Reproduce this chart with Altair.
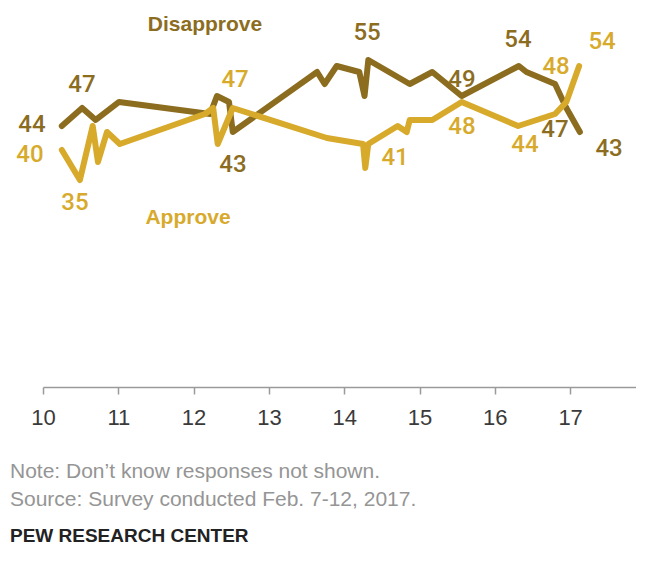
import altair as alt
import pandas as pd

# Disapprove series (year fraction, percent)
dis_t = [10.25, 10.52, 10.70, 11.01, 12.22, 12.31, 12.47, 12.52, 13.64, 13.74, 13.90,
         14.20, 14.27, 14.32, 14.87, 15.17, 15.56, 16.32, 16.42, 16.80, 16.95, 17.13]
dis_v = [44, 47, 45, 48, 46, 49, 48, 43, 53, 51, 54,
         53, 49, 55, 51, 53, 49, 54, 53, 51, 47, 43]

# Approve series
app_t = [10.25, 10.49, 10.66, 10.73, 10.85, 11.02, 12.15, 12.26, 12.32, 12.52, 13.77,
         14.25, 14.28, 14.32, 14.71, 14.83, 14.87, 15.17, 15.56, 16.31, 16.80, 16.95, 17.12]
app_v = [40, 35, 44, 38, 43, 41, 46, 47, 41, 47, 42,
         41, 37, 41, 44, 43, 45, 45, 48, 44, 46, 48, 54]

# Value labels (text, anchor year, anchor value, series)
lab_text = ["44", "47", "43", "55", "49", "54", "47", "43",
            "40", "35", "47", "41", "48", "44", "48", "54"]
lab_t = [9.854, 10.518, 12.523, 14.303, 15.564, 16.308, 16.799, 17.517,
         9.827, 10.425, 12.55, 14.675, 15.564, 16.401, 16.813, 17.424]
lab_v = [44.17, 50.83, 37.5, 59.5, 51.67, 58.33, 43.33, 40.17,
         39.17, 31.17, 51.67, 38.67, 43.83, 40.83, 53.83, 58.0]
lab_s = ["Disapprove"] * 8 + ["Approve"] * 8

# Series names placed as labels
name_text = ["Disapprove", "Approve"]
name_t = [12.151, 11.926]
name_v = [60.83, 28.67]

x_ticks = [10, 11, 12, 13, 14, 15, 16, 17]

notes = ["Note: Don\u2019t know responses not shown.",
         "Source: Survey conducted Feb. 7-12, 2017."]
credit = "PEW RESEARCH CENTER"

DARK = "#8C6D1F"
LIGHT = "#D8AA2C"

rows = []
for i, (t, v) in enumerate(zip(dis_t, dis_v)):
    rows.append({"t": t, "v": v, "series": "Disapprove", "i": i})
for i, (t, v) in enumerate(zip(app_t, app_v)):
    rows.append({"t": t, "v": v, "series": "Approve", "i": i})
lines_df = pd.DataFrame(rows)

labels_df = pd.DataFrame({"text": lab_text, "t": lab_t, "v": lab_v, "series": lab_s})
names_df = pd.DataFrame({"text": name_text, "t": name_t, "v": name_v, "series": name_text})

xscale = alt.Scale(domain=[10, 17.875], nice=False, zero=False)
yscale = alt.Scale(domain=[0.5, 63.33], nice=False, zero=False)
cscale = alt.Scale(domain=["Disapprove", "Approve"], range=[DARK, LIGHT])

xaxis = alt.Axis(values=x_ticks, format="d", title=None, grid=False,
                 domainColor="#9a9a9a", domainWidth=1.5, tickColor="#9a9a9a",
                 tickWidth=1.5, tickSize=7, labelFontSize=22, labelColor="#3a3a3a",
                 labelFont="Liberation Sans", labelPadding=13, labelFlush=False)

lines = alt.Chart(lines_df).mark_line(strokeWidth=6, strokeJoin="round", strokeCap="round").encode(
    x=alt.X("t:Q", scale=xscale, axis=xaxis),
    y=alt.Y("v:Q", scale=yscale, axis=None),
    color=alt.Color("series:N", scale=cscale, legend=None),
    order="i:Q",
    detail="series:N",
)

labels = alt.Chart(labels_df).mark_text(font="Roboto", fontSize=24, fontWeight=500,
                                         align="center", baseline="middle").encode(
    x=alt.X("t:Q", scale=xscale, axis=xaxis),
    y=alt.Y("v:Q", scale=yscale, axis=None),
    text="text:N",
    color=alt.Color("series:N", scale=cscale, legend=None),
)

names = alt.Chart(names_df).mark_text(font="Liberation Sans", fontSize=21, fontWeight="bold",
                                       align="center", baseline="middle").encode(
    x=alt.X("t:Q", scale=xscale, axis=xaxis),
    y=alt.Y("v:Q", scale=yscale, axis=None),
    text="text:N",
    color=alt.Color("series:N", scale=cscale, legend=None),
)

note1 = alt.Chart(pd.DataFrame({"text": [notes[0]]})).mark_text(
    font="Liberation Sans", fontSize=21, color="#959595", align="left", baseline="middle"
).encode(x=alt.value(-33), y=alt.value(462), text="text:N")
note2 = alt.Chart(pd.DataFrame({"text": [notes[1]]})).mark_text(
    font="Liberation Sans", fontSize=21, color="#959595", align="left", baseline="middle"
).encode(x=alt.value(-33), y=alt.value(490), text="text:N")
cred = alt.Chart(pd.DataFrame({"text": [credit]})).mark_text(
    font="Liberation Sans", fontSize=19, fontWeight="bold", color="#222222", align="left",
    baseline="middle"
).encode(x=alt.value(-33), y=alt.value(526), text="text:N")

chart = alt.layer(lines, labels, names, note1, note2, cred).properties(
    width=593, height=377,
    background="white",
    autosize=alt.AutoSizeParams(type="none"),
    padding={"left": 35, "top": 2, "right": 0, "bottom": 160},
).configure_view(stroke=None)

chart.save("out.html", embed_options={"renderer": "svg", "actions": False})
